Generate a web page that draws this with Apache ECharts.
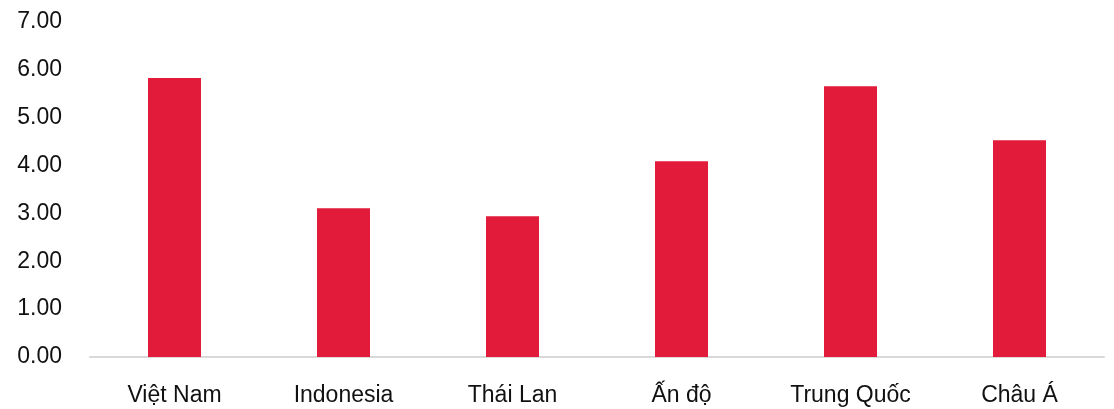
<!DOCTYPE html>
<html>
<head>
<meta charset="utf-8">
<script src="https://cdn.jsdelivr.net/npm/echarts@6/dist/echarts.min.js"></script>
<style>
  html, body { margin: 0; padding: 0; background: #ffffff; }
  #chart { width: 1114px; height: 409px; }
</style>
</head>
<body>
<div id="chart"></div>
<script>
// Categories along the x axis
const categories = ['Việt Nam', 'Indonesia', 'Thái Lan', 'Ấn độ', 'Trung Quốc', 'Châu Á'];
// Bar values
const values = [5.83, 3.11, 2.94, 4.09, 5.66, 4.53];
// Value axis range and step
const yMin = 0;
const yMax = 7;
const yStep = 1;

const font = '"Liberation Sans", Arial, sans-serif';

const chart = echarts.init(document.getElementById('chart'), null, { renderer: 'canvas' });
chart.setOption({
  animation: false,
  backgroundColor: '#ffffff',
  grid: { left: 90, right: 10, top: 22, bottom: 52, containLabel: false },
  xAxis: {
    type: 'category',
    data: categories,
    axisLine: { show: true, lineStyle: { color: '#d9d9d9', width: 2 } },
    axisTick: { show: false },
    axisLabel: { color: '#111111', fontFamily: font, fontSize: 23, margin: 27, interval: 0 }
  },
  yAxis: {
    type: 'value',
    min: yMin,
    max: yMax,
    interval: yStep,
    axisLine: { show: false },
    axisTick: { show: false },
    splitLine: { show: false },
    axisLabel: {
      color: '#111111', fontFamily: font, fontSize: 23, margin: 28,
      formatter: v => v.toFixed(2)
    }
  },
  series: [{
    type: 'bar',
    data: values,
    barWidth: 53,
    itemStyle: { color: '#E31B3A' }
  }]
});
</script>
</body>
</html>
